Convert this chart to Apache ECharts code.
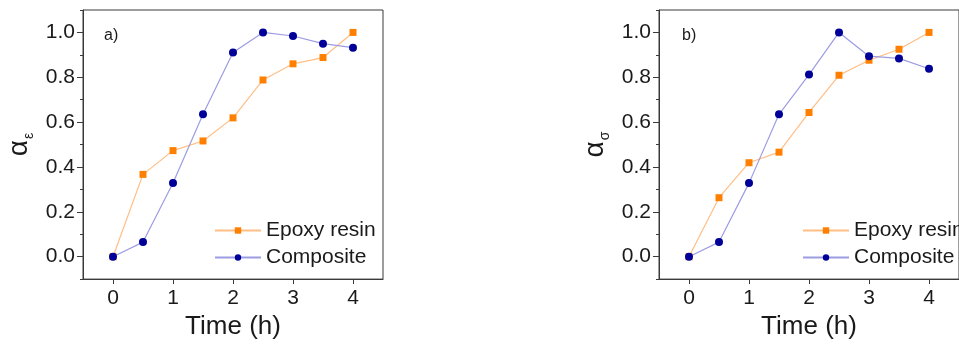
<!DOCTYPE html>
<html>
<head>
<meta charset="utf-8">
<script src="https://cdn.jsdelivr.net/npm/echarts@6/dist/echarts.min.js"></script>
<style>
html,body{margin:0;padding:0;background:#fff;}
#c{width:959px;height:345px;}
</style>
</head>
<body>
<div id="c"></div>
<script>
const timeH = [0, 0.5, 1, 1.5, 2, 2.5, 3, 3.5, 4];
const epoxyA = [0, 0.367, 0.473, 0.516, 0.619, 0.788, 0.860, 0.888, 1.0];
const compositeA = [0, 0.065, 0.329, 0.635, 0.910, 1.0, 0.984, 0.950, 0.932];
const epoxyB = [0, 0.263, 0.419, 0.466, 0.643, 0.809, 0.876, 0.925, 1.0];
const compositeB = [0, 0.065, 0.328, 0.635, 0.812, 1.0, 0.894, 0.884, 0.838];
const xTicks = [0, 1, 2, 3, 4];
const yTicks = [0, 0.2, 0.4, 0.6, 0.8, 1.0];
const yMinorTicks = [-0.1, 0.1, 0.3, 0.5, 0.7, 0.9, 1.1];
const seriesNames = ['Epoxy resin', 'Composite'];
const panelLabels = ['a)', 'b)'];
const yNames = ['ε', 'σ'];

const FONT = '"Liberation Sans", Arial, sans-serif';
const TXT = '#1a1a1a';
const FRAME = '#3a3a3a';

const grids = [
  {left: 83, top: 10, width: 300, height: 272},
  {left: 659, top: 10, width: 301, height: 272}
];

function pairs(ys) { return timeH.map((t, i) => [t, ys[i]]); }

const xAxes = [], yAxes = [], series = [], legends = [], titles = [];
grids.forEach((g, k) => {
  xAxes.push({
    type: 'value', gridIndex: k, min: -0.5, max: 4.5,
    splitLine: {show: false},
    axisLine: {show: true, onZero: false, lineStyle: {color: FRAME, width: 1}},
    axisTick: {show: true, inside: false, length: 5, lineStyle: {color: FRAME}, customValues: xTicks},
    axisLabel: {fontSize: 21, fontFamily: FONT, color: TXT, margin: 9, customValues: xTicks},
    name: 'Time (h)', nameLocation: 'middle', nameGap: 31,
    nameTextStyle: {fontSize: 26, fontFamily: FONT, color: TXT}
  });
  yAxes.push({
    type: 'value', gridIndex: k, min: -0.1, max: 1.1,
    splitLine: {show: false},
    axisLine: {show: true, onZero: false, lineStyle: {color: FRAME, width: 1}},
    axisTick: {show: true, inside: false, length: 6, lineStyle: {color: FRAME}, customValues: yTicks},
    axisLabel: {fontSize: 21, fontFamily: FONT, color: TXT, margin: 8, customValues: yTicks,
      formatter: v => v.toFixed(1)},
    name: '{a|α}{s|' + yNames[k] + '}', nameLocation: 'middle', nameGap: 50, nameRotate: 90,
    nameTextStyle: {fontFamily: FONT, color: TXT,
      rich: {a: {fontSize: 28, fontFamily: FONT, color: TXT},
             s: {fontSize: 14, fontFamily: FONT, color: TXT, verticalAlign: 'bottom', padding: [0, 0, -3, 1]}}}
  });
  // minor ticks overlay
  yAxes.push({
    type: 'value', gridIndex: k, min: -0.1, max: 1.1, position: 'left',
    splitLine: {show: false},
    axisLine: {show: false, onZero: false},
    axisTick: {show: true, inside: false, length: 3, lineStyle: {color: FRAME}, customValues: yMinorTicks},
    axisLabel: {show: false}
  });
  const yi = k * 2;
  series.push({
    name: seriesNames[0], type: 'line', xAxisIndex: k, yAxisIndex: yi,
    data: pairs(k === 0 ? epoxyA : epoxyB),
    symbol: 'rect', symbolSize: 7, z: 2,
    itemStyle: {color: '#FF8000'},
    lineStyle: {color: '#FFBE85', width: 1.2}
  });
  series.push({
    name: seriesNames[1], type: 'line', xAxisIndex: k, yAxisIndex: yi,
    data: pairs(k === 0 ? compositeA : compositeB),
    symbol: 'circle', symbolSize: 8, z: 3,
    itemStyle: {color: '#000099'},
    lineStyle: {color: '#9C9CE2', width: 1.2}
  });
  legends.push({
    data: seriesNames, orient: 'vertical',
    left: k === 0 ? 209 : 797, top: 215,
    itemWidth: 46, itemHeight: 8, itemGap: 6,
    textStyle: {fontSize: 21, fontFamily: FONT, color: TXT, lineHeight: 20, padding: [0, 0, 0, 0]},
    selectedMode: false
  });
  titles.push({
    text: panelLabels[k], left: k === 0 ? 99 : 677, top: 23,
    textStyle: {fontSize: 16, fontWeight: 'normal', fontFamily: FONT, color: TXT}
  });
});

const chart = echarts.init(document.getElementById('c'), null, {renderer: 'canvas'});
chart.setOption({
  backgroundColor: '#fff',
  animation: false,
  title: titles,
  legend: legends,
  grid: grids.map(g => Object.assign({show: true, borderColor: FRAME, borderWidth: 1, backgroundColor: 'transparent'}, g)),
  xAxis: xAxes,
  yAxis: yAxes,
  series: series
});
</script>
</body>
</html>
